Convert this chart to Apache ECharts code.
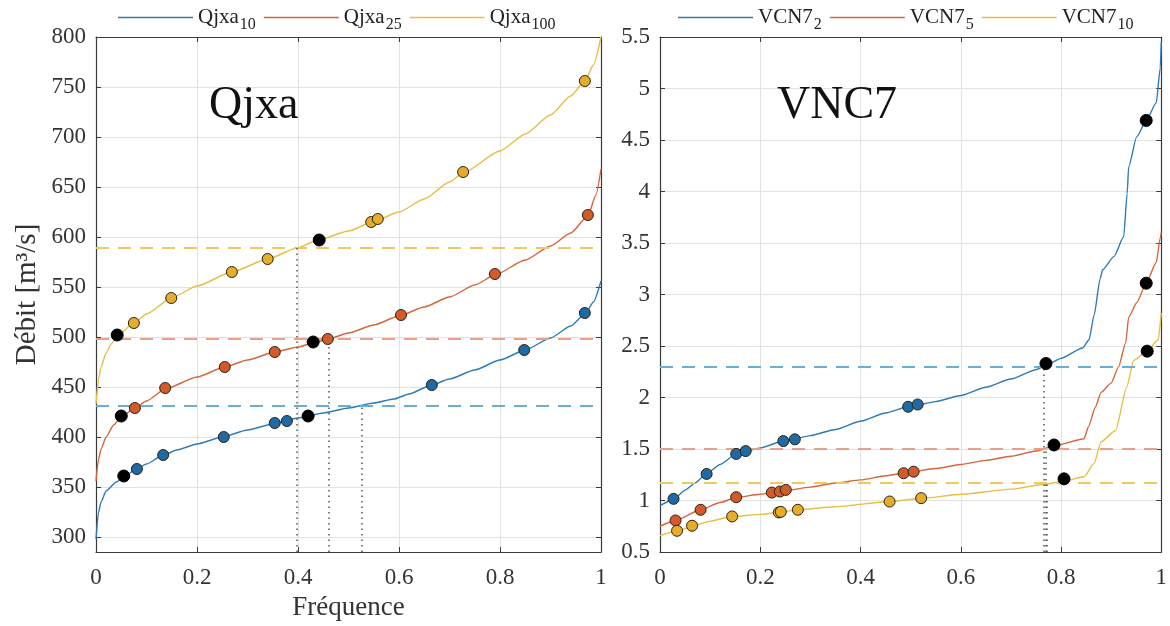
<!DOCTYPE html>
<html>
<head>
<meta charset="utf-8">
<script src="https://cdn.jsdelivr.net/npm/echarts@6/dist/echarts.min.js"></script>
<style>
  html, body { margin: 0; background: #fff; }
  #main { width: 1170px; height: 626px; }
</style>
</head>
<body>
<div id="main"></div>
<script>
  // courbes de fréquence - Qjxa
  var qjxa10Curve = [[0,298],[0.005,325],[0.01,335],[0.02,346],[0.04,355],[0.06,362],[0.08,368],[0.1,373],[0.13,381],[0.16,387],[0.2,393],[0.25,400],[0.3,407],[0.35,413],[0.4,419],[0.45,424],[0.5,429],[0.55,434],[0.59,438],[0.62,443],[0.66,451],[0.7,458],[0.75,467],[0.8,477],[0.85,487],[0.9,499],[0.94,511],[0.97,524],[0.985,535],[1,556]];
  var qjxa25Curve = [[0,356],[0.005,378],[0.01,388],[0.02,400],[0.035,412],[0.05,420],[0.077,429],[0.1,436],[0.137,448],[0.2,460],[0.255,470],[0.3,477],[0.354,485],[0.4,490],[0.43,494],[0.46,498],[0.5,504],[0.55,512],[0.6,521],[0.65,530],[0.7,540],[0.75,552],[0.79,562],[0.85,577],[0.9,591],[0.94,604],[0.974,621],[0.99,642],[1,668]];
  var qjxa100Curve = [[0,433],[0.005,458],[0.01,470],[0.02,484],[0.03,493],[0.042,501],[0.075,514],[0.1,523],[0.149,539],[0.2,551],[0.269,565],[0.34,578],[0.398,589],[0.44,597],[0.5,606],[0.548,615],[0.6,625],[0.65,638],[0.7,655],[0.727,664],[0.8,686],[0.85,703],[0.9,722],[0.94,741],[0.968,756],[0.985,772],[1,800]];
  var qjxa10Pts = [[0.081,368],[0.133,382],[0.253,400],[0.354,414],[0.378,416],[0.665,452],[0.848,487],[0.968,524]];
  var qjxa25Pts = [[0.077,429],[0.137,449],[0.255,470],[0.354,485],[0.459,498],[0.604,522],[0.79,563],[0.974,622]];
  var qjxa100Pts = [[0.075,514],[0.149,539],[0.269,565],[0.34,578],[0.545,615],[0.558,618],[0.727,665],[0.968,756]];
  var qjxaBlack = [[0.042,502],[0.05,421],[0.055,361],[0.442,597],[0.43,495],[0.42,421]];
  var qjxaLevels = [431, 498, 589];
  var qjxaCross = [0.526, 0.461, 0.398];

  // courbes de fréquence - VCN7
  var vcn2Curve = [[0,0.95],[0.027,1.01],[0.05,1.1],[0.07,1.17],[0.093,1.26],[0.12,1.35],[0.152,1.45],[0.171,1.48],[0.2,1.51],[0.246,1.577],[0.269,1.6],[0.3,1.63],[0.35,1.69],[0.4,1.77],[0.45,1.85],[0.495,1.91],[0.55,1.96],[0.6,2.02],[0.65,2.1],[0.7,2.18],[0.75,2.27],[0.77,2.31],[0.8,2.38],[0.843,2.48],[0.856,2.56],[0.866,2.8],[0.878,3.15],[0.883,3.24],[0.906,3.37],[0.925,3.56],[0.932,3.98],[0.935,4.24],[0.951,4.53],[0.97,4.69],[0.99,4.86],[0.998,5.2],[1,5.45]];
  var vcn5Curve = [[0,0.75],[0.031,0.806],[0.081,0.91],[0.12,0.98],[0.152,1.03],[0.2,1.06],[0.239,1.087],[0.3,1.13],[0.35,1.17],[0.4,1.2],[0.45,1.24],[0.486,1.265],[0.55,1.31],[0.6,1.35],[0.65,1.39],[0.7,1.43],[0.75,1.48],[0.786,1.53],[0.846,1.6],[0.855,1.72],[0.868,1.9],[0.88,2.05],[0.9,2.14],[0.915,2.3],[0.929,2.53],[0.935,2.78],[0.951,2.92],[0.97,3.11],[0.99,3.31],[0.998,3.55],[1,3.6]];
  var vcn10Curve = [[0,0.66],[0.034,0.7],[0.064,0.75],[0.1,0.8],[0.144,0.845],[0.2,0.865],[0.241,0.888],[0.275,0.91],[0.35,0.94],[0.458,0.99],[0.521,1.02],[0.6,1.06],[0.7,1.11],[0.77,1.16],[0.806,1.19],[0.846,1.23],[0.866,1.36],[0.88,1.57],[0.909,1.68],[0.931,2.1],[0.945,2.36],[0.972,2.45],[0.994,2.56],[1,2.82]];
  var vcn2Pts = [[0.027,1.016],[0.093,1.258],[0.152,1.452],[0.171,1.48],[0.246,1.577],[0.269,1.594],[0.495,1.91],[0.514,1.932]];
  var vcn5Pts = [[0.031,0.806],[0.081,0.91],[0.152,1.032],[0.223,1.077],[0.239,1.087],[0.251,1.103],[0.486,1.265],[0.506,1.28]];
  var vcn10Pts = [[0.034,0.706],[0.064,0.755],[0.144,0.845],[0.237,0.884],[0.241,0.89],[0.275,0.91],[0.458,0.99],[0.521,1.023]];
  var vcnBlack = [[0.77,2.33],[0.786,1.539],[0.806,1.21],[0.97,4.69],[0.97,3.11],[0.972,2.45]];
  var vcnLevels = [2.3, 1.5, 1.17];
  var vcnCross = [0.766, 0.769, 0.772];

  var qjxaNames = ['Qjxa_10', 'Qjxa_25', 'Qjxa_100'];
  var vcnNames = ['VCN7_2', 'VCN7_5', 'VCN7_10'];

  var lineColors = ['#2f7bb6', '#d4663a', '#e6bf45'];
  var dotColors = ['#1f6aa5', '#d35a2a', '#e6ad2c'];
  var dashColors = ['#6aaed6', '#e8a08a', '#eec862'];
  var serif = 'Liberation Serif';

  var myChart = echarts.init(document.getElementById('main'));

  function xAx(grid, top) {
    return {
      type: 'value', gridIndex: grid, min: 0, max: 1, interval: 0.2,
      position: top ? 'top' : 'bottom',
      axisLine: { show: true, onZero: false, lineStyle: { color: '#3a3a3a', width: 1.2 } },
      axisTick: { show: true, inside: true, length: 5, lineStyle: { color: '#3a3a3a' } },
      axisLabel: { show: !top, margin: 14, color: '#333', fontFamily: serif, fontSize: 23,
        formatter: function (v) { return String(+v.toFixed(1)); } },
      splitLine: { show: !top, lineStyle: { color: '#e2e2e2', width: 1 } }
    };
  }
  function yAx(grid, right, min, max, extra) {
    var ax = {
      type: 'value', gridIndex: grid, min: min, max: max,
      position: right ? 'right' : 'left',
      axisLine: { show: true, onZero: false, lineStyle: { color: '#3a3a3a', width: 1.2 } },
      axisTick: { show: true, inside: true, length: 5, lineStyle: { color: '#3a3a3a' } },
      axisLabel: { show: !right, margin: 10, color: '#333', fontFamily: serif, fontSize: 23 },
      splitLine: { show: !right, lineStyle: { color: '#e2e2e2', width: 1 } }
    };
    return Object.assign(ax, extra || {});
  }

  var qjxaY = { splitNumber: 10,
    axisLabel: { show: true, margin: 10, color: '#333', fontFamily: serif, fontSize: 23,
      formatter: function (v) { return v % 50 === 0 ? String(v) : ''; } } };

  var series = [];
  function addGroup(names, curves, pts, levels, cross, yMin, xi, yi) {
    names.forEach(function (name, i) {
      series.push({
        name: name, type: 'line', xAxisIndex: xi, yAxisIndex: yi,
        data: curves[i], symbol: 'none', smooth: 0.2, smoothMonotone: 'x',
        lineStyle: { color: lineColors[i], width: 1.4 }, itemStyle: { color: lineColors[i] },
        z: 3,
        markLine: {
          silent: true, symbol: ['none', 'none'], label: { show: false },
          data: [
            { yAxis: levels[i], lineStyle: { color: dashColors[i], type: [13, 9], width: 1.8 } },
            [{ coord: [cross[i], yMin], lineStyle: { color: '#555', type: [1.5, 4], width: 1.5 } },
             { coord: [cross[i], levels[i]] }]
          ]
        }
      });
    });
    pts.forEach(function (p, i) {
      series.push({
        type: 'scatter', xAxisIndex: xi, yAxisIndex: yi, data: p, symbolSize: 11, z: 5,
        itemStyle: { color: dotColors[i], borderColor: '#2b2414', borderWidth: 1, opacity: 1 }
      });
    });
  }
  addGroup(qjxaNames, [qjxa10Curve, qjxa25Curve, qjxa100Curve], [qjxa10Pts, qjxa25Pts, qjxa100Pts], qjxaLevels, qjxaCross, 285, 0, 0);
  addGroup(vcnNames, [vcn2Curve, vcn5Curve, vcn10Curve], [vcn2Pts, vcn5Pts, vcn10Pts], vcnLevels, vcnCross, 0.5, 2, 2);
  series.push({ type: 'scatter', xAxisIndex: 0, yAxisIndex: 0, data: qjxaBlack, symbolSize: 12, z: 6,
    itemStyle: { color: '#000', borderColor: '#000', borderWidth: 1, opacity: 1 } });
  series.push({ type: 'scatter', xAxisIndex: 2, yAxisIndex: 2, data: vcnBlack, symbolSize: 12, z: 6,
    itemStyle: { color: '#000', borderColor: '#000', borderWidth: 1, opacity: 1 } });

  var legendText = {
    rich: {
      b: { fontFamily: serif, fontSize: 21, color: '#222' },
      s: { fontFamily: serif, fontSize: 16, color: '#222', padding: [14, 0, 0, 1] }
    }
  };
  function legendFmt(name) {
    var p = name.split('_');
    return '{b|' + p[0] + '}{s|' + p[1] + '}';
  }

  var option = {
    animation: false,
    backgroundColor: '#fff',
    title: [
      { text: 'Qjxa', left: 204, top: 78, textStyle: { fontFamily: serif, fontSize: 46, fontWeight: 'normal', color: '#111' } },
      { text: 'VNC7', left: 772, top: 78, textStyle: { fontFamily: serif, fontSize: 46, fontWeight: 'normal', color: '#111' } }
    ],
    legend: [
      { data: qjxaNames, left: 113, top: 2, icon: 'rect', itemWidth: 75, itemHeight: 1.5, itemGap: 8,
        formatter: legendFmt, textStyle: legendText },
      { data: vcnNames, left: 673, top: 2, icon: 'rect', itemWidth: 75, itemHeight: 1.5, itemGap: 8,
        formatter: legendFmt, textStyle: legendText }
    ],
    grid: [
      { left: 96, right: 569, top: 37, bottom: 74 },
      { left: 660, right: 2, top: 37, bottom: 74 }
    ],
    xAxis: [
      Object.assign(xAx(0, false), { name: 'Fréquence', nameLocation: 'middle', nameGap: 42,
        nameTextStyle: { fontFamily: serif, fontSize: 27, color: '#333' } }),
      xAx(0, true),
      xAx(1, false),
      xAx(1, true)
    ],
    yAxis: [
      yAx(0, false, 285, 800, Object.assign({ name: 'Débit [m³/s]', nameLocation: 'middle', nameGap: 54,
        nameTextStyle: { fontFamily: serif, fontSize: 29, color: '#333' } }, qjxaY)),
      yAx(0, true, 285, 800, { splitNumber: 10 }),
      yAx(1, false, 0.5, 5.5, { interval: 0.5 }),
      yAx(1, true, 0.5, 5.5, { interval: 0.5 })
    ],
    series: series
  };
  myChart.setOption(option);
</script>
</body>
</html>
